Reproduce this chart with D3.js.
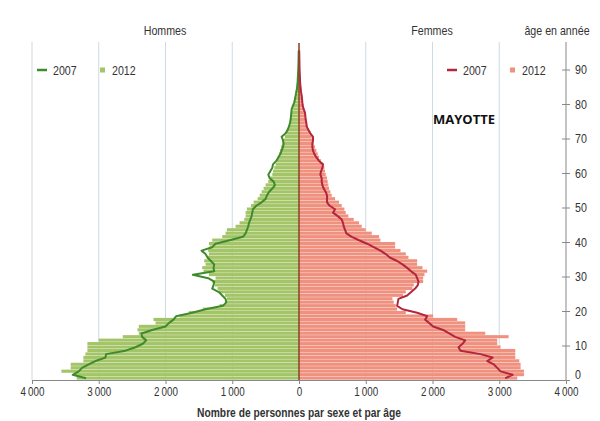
<!DOCTYPE html>
<html>
<head>
<meta charset="utf-8">
<script src="https://cdn.jsdelivr.net/npm/d3@7"></script>
<style>
  body { margin: 0; background: #fff; }
  svg text { font-family: "Liberation Sans", Arial, sans-serif; fill: #333; }
</style>
</head>
<body>
<svg id="canvas" width="600" height="421"></svg>
<script>
// ages 0 .. 95
let ages = d3.range(0, 96)

let hommes2012 = [3330, 3350, 3560, 3420, 3420, 3230, 3230, 3200, 3170, 3170,
    3170, 3000, 2640, 2400, 2420, 2400, 2150, 2180, 1790, 1650,
    1440, 1190, 1100, 1080, 1110, 1200, 1220, 1260, 1300, 1250,
    1350, 1430, 1450, 1400, 1420, 1380, 1350, 1360, 1340, 1350,
    1300, 1150, 1100, 1080, 950, 890, 820, 800, 800, 780,
    720, 680, 620, 590, 560, 530, 500, 460, 430, 400,
    390, 370, 350, 330, 320, 300, 285, 270, 250, 230,
    210, 190, 170, 155, 140, 125, 115, 105, 95, 90,
    80, 70, 60, 50, 40, 35, 30, 25, 20, 18,
    15, 12, 10, 8, 6, 5]

let hommes2007 = [3190, 3390, 3300, 3250, 3150, 3050, 2900, 2890, 2600, 2450,
    2340, 2290, 2350, 2360, 2200, 2000, 1950, 1880, 1840, 1600,
    1400, 1140, 1090, 1100, 1150, 1200, 1300, 1280, 1270, 1360,
    1590, 1270, 1280, 1270, 1320, 1370, 1400, 1460, 1300, 1250,
    1040, 840, 800, 780, 760, 750, 730, 710, 700, 690,
    640, 560, 500, 480, 450, 400, 360, 380, 440, 460,
    430, 400, 390, 340, 310, 280, 260, 240, 230, 240,
    260, 200, 170, 150, 135, 125, 120, 115, 110, 90,
    70, 60, 50, 40, 30, 25, 20, 18, 15, 12,
    10, 8, 7, 6, 5, 4]

let femmes2012 = [3270, 3370, 3370, 3320, 3320, 3300, 3240, 3240, 3240, 3020,
    2970, 2970, 3140, 2790, 2490, 2490, 2490, 2370, 2010, 1600,
    1470, 1450, 1420, 1400, 1560, 1600, 1700, 1720, 1860, 1860,
    1880, 1920, 1850, 1770, 1770, 1640, 1600, 1520, 1440, 1440,
    1220, 1200, 1090, 1000, 940, 900, 820, 740, 700, 680,
    640, 600, 540, 490, 470, 450, 440, 430, 420, 400,
    390, 380, 360, 330, 300, 280, 260, 240, 220, 200,
    190, 170, 150, 130, 115, 105, 95, 90, 80, 70,
    60, 50, 45, 40, 35, 30, 25, 20, 18, 15,
    12, 10, 8, 6, 5, 4]

let femmes2007 = [3090, 3200, 3020, 2970, 2920, 2820, 2900, 2720, 2420, 2390,
    2450, 2490, 2340, 2250, 2160, 2010, 1950, 1890, 1920, 1770,
    1550, 1470, 1480, 1490, 1620, 1680, 1740, 1780, 1790, 1770,
    1750, 1680, 1620, 1550, 1470, 1360, 1300, 1220, 1120, 1020,
    900, 790, 710, 690, 670, 660, 640, 580, 510, 540,
    460, 420, 420, 420, 400, 370, 350, 340, 340, 320,
    330, 350, 360, 300, 260, 230, 210, 200, 200, 210,
    210, 170, 140, 115, 110, 100, 95, 90, 70, 55,
    50, 45, 40, 30, 25, 20, 16, 14, 12, 10,
    8, 7, 6, 5, 4, 3]

let xTicks = [-4000, -3000, -2000, -1000, 0, 1000, 2000, 3000, 4000]
let ageTicks = [0, 10, 20, 30, 40, 50, 60, 70, 80, 90]

let canvas = d3.select("#canvas")

let xScale = d3.scaleLinear().domain([-4000, 4000]).range([32, 566])
let yScale = d3.scaleLinear().domain([0, 90]).range([380, 69.5])

let green = '#a3c567'
let salmon = '#f0917f'
let darkGreen = '#3f8a2c'
let darkRed = '#b3263c'
let narrow = 0.82

let fmt = (v) => {
    let s = d3.format(',')(Math.abs(v))
    return s.replace(',', '\u2009')
}

// narrow text: the original uses Arial Narrow
let addText = (x, y, str, size, anchor, bold) => {
    return canvas.append('text')
        .attr('transform', `translate(${x},${y}) scale(${narrow},1)`)
        .attr('text-anchor', anchor || 'start')
        .attr('font-size', size)
        .attr('font-weight', bold ? 'bold' : 'normal')
        .text(str)
}

let drawGrid = () => {
    canvas.append('g')
        .selectAll('line')
        .data(xTicks.filter((t) => t !== 0 && t !== 4000))
        .enter()
        .append('line')
        .attr('x1', (t) => xScale(t))
        .attr('x2', (t) => xScale(t))
        .attr('y1', 42)
        .attr('y2', 380)
        .attr('stroke', '#cddbe3')
        .attr('stroke-width', 1)
}

let drawBars = () => {
    let h = yScale(0) - yScale(1)
    canvas.append('g')
        .selectAll('rect')
        .data(ages)
        .enter()
        .append('rect')
        .attr('x', (a) => xScale(-hommes2012[a]))
        .attr('width', (a) => xScale(0) - xScale(-hommes2012[a]))
        .attr('y', (a) => yScale(a + 1))
        .attr('height', h - 0.35)
        .attr('fill', green)

    canvas.append('g')
        .selectAll('rect')
        .data(ages)
        .enter()
        .append('rect')
        .attr('x', xScale(0))
        .attr('width', (a) => xScale(femmes2012[a]) - xScale(0))
        .attr('y', (a) => yScale(a + 1))
        .attr('height', h - 0.35)
        .attr('fill', salmon)
}

let drawLines = () => {
    let menLine = d3.line()
        .x((a) => xScale(-hommes2007[a]))
        .y((a) => yScale(a + 0.5))
    let womenLine = d3.line()
        .x((a) => xScale(femmes2007[a]))
        .y((a) => yScale(a + 0.5))

    canvas.append('path')
        .attr('d', menLine(ages))
        .attr('fill', 'none')
        .attr('stroke', darkGreen)
        .attr('stroke-width', 2)
        .attr('stroke-linejoin', 'round')

    canvas.append('path')
        .attr('d', womenLine(ages))
        .attr('fill', 'none')
        .attr('stroke', darkRed)
        .attr('stroke-width', 2)
        .attr('stroke-linejoin', 'round')

    // centre line
    canvas.append('line')
        .attr('x1', xScale(0))
        .attr('x2', xScale(0))
        .attr('y1', 43)
        .attr('y2', 380)
        .attr('stroke', '#8c4a2c')
        .attr('stroke-width', 1.6)
}

let drawAxes = () => {
    let xAxis = d3.axisBottom(xScale)
        .tickValues(xTicks)
        .tickSize(4)
        .tickPadding(0)
        .tickFormat(fmt)
    let gx = canvas.append('g')
        .attr('transform', 'translate(0,380)')
        .call(xAxis)
    gx.select('.domain').attr('stroke', '#888')
    gx.selectAll('line').attr('stroke', '#888')
    gx.selectAll('text')
        .attr('y', 0)
        .attr('dy', 0)
        .attr('transform', `translate(0,16) scale(${narrow},1)`)
        .attr('font-size', 12)
        .style('fill', '#333')
        .style('font-family', '"Liberation Sans", Arial, sans-serif')

    let yAxis = d3.axisRight(yScale)
        .tickValues(ageTicks)
        .tickSize(4)
        .tickPadding(0)
    let gy = canvas.append('g')
        .attr('transform', 'translate(566,0)')
        .call(yAxis)
    gy.select('.domain').remove()
    gy.append('line')
        .attr('x1', 0).attr('x2', 0)
        .attr('y1', 42).attr('y2', 380)
        .attr('stroke', '#888')
    gy.selectAll('.tick line')
        .attr('x1', -4)
        .attr('stroke', '#888')
    gy.selectAll('text')
        .attr('x', 0)
        .attr('transform', `translate(9,0) scale(${narrow},1)`)
        .attr('font-size', 13)
        .style('fill', '#333')
        .style('font-family', '"Liberation Sans", Arial, sans-serif')
    gy.selectAll('.tick')
        .filter((d) => d === 0)
        .select('text')
        .attr('dy', '-0.1em')
}

let drawLabels = () => {
    addText(165, 35, 'Hommes', 13, 'middle')
    addText(432, 35, 'Femmes', 13, 'middle')
    addText(557, 35, 'âge en année', 13, 'middle')
    addText(299, 417, 'Nombre de personnes par sexe et par âge', 12.5, 'middle', true)
    canvas.append('text')
        .attr('x', 433).attr('y', 124)
        .attr('font-size', 13)
        .attr('font-weight', 'bold')
        .style('font-family', '"Open Sans", "Liberation Sans", sans-serif')
        .style('fill', '#111')
        .text('MAYOTTE')
}

let drawLegend = () => {
    let items = [
        { x: 37, type: 'line', color: darkGreen, label: '2007' },
        { x: 100, type: 'rect', color: green, label: '2012' },
        { x: 447, type: 'line', color: darkRed, label: '2007' },
        { x: 510, type: 'rect', color: salmon, label: '2012' }
    ]
    let g = canvas.append('g')
    items.forEach((it) => {
        if (it.type === 'line') {
            g.append('line')
                .attr('x1', it.x).attr('x2', it.x + 10)
                .attr('y1', 70).attr('y2', 70)
                .attr('stroke', it.color)
                .attr('stroke-width', 2.5)
            addText(it.x + 16, 74.5, it.label, 13)
        } else {
            g.append('rect')
                .attr('x', it.x).attr('y', 67.5)
                .attr('width', 5).attr('height', 5)
                .attr('fill', it.color)
            addText(it.x + 12, 74.5, it.label, 13)
        }
    })
}

drawGrid()
drawBars()
drawLines()
drawAxes()
drawLabels()
drawLegend()
</script>
</body>
</html>
